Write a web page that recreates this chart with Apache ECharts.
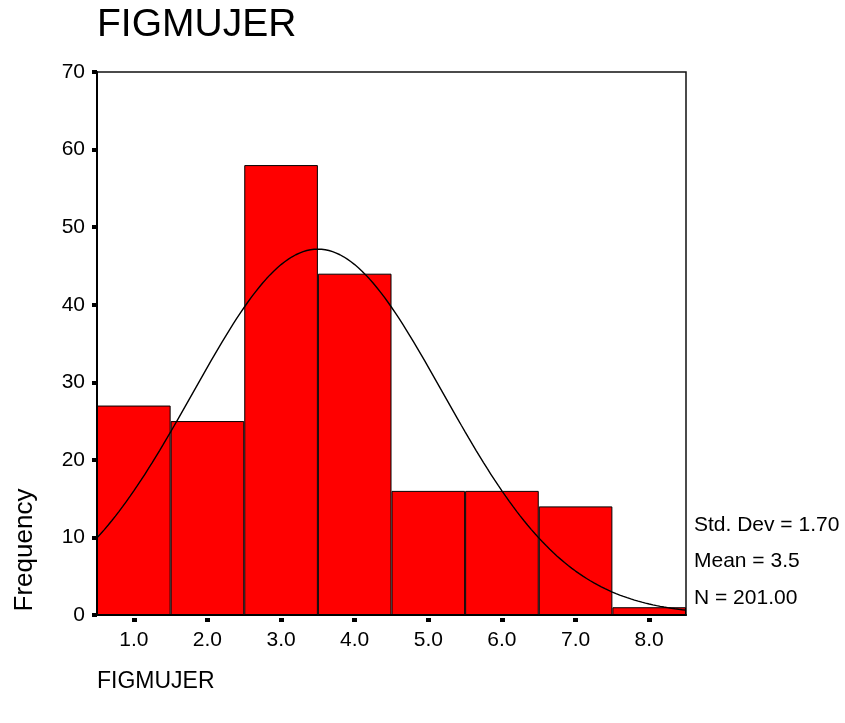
<!DOCTYPE html>
<html>
<head>
<meta charset="utf-8">
<script src="https://cdn.jsdelivr.net/npm/echarts@6/dist/echarts.min.js"></script>
<style>
  html, body { margin: 0; padding: 0; background: #fff; }
  #chart { width: 845px; height: 723px; }
</style>
</head>
<body>
<div id="chart"></div>
<script>
// Histogram of FIGMUJER with its fitted normal curve
var categories = ['1.0', '2.0', '3.0', '4.0', '5.0', '6.0', '7.0', '8.0'];
var binCenters = [1, 2, 3, 4, 5, 6, 7, 8];
var frequencies = [27, 25, 58, 44, 16, 16, 14, 1];
var yTicks = [0, 10, 20, 30, 40, 50, 60, 70];

// Summary statistics printed beside the plot
var stdDev = 1.70;
var mean = 3.5;
var nCases = 201.00;
var statLines = ['Std. Dev = 1.70', 'Mean = 3.5', 'N = 201.00'];

// Normal curve scaled to counts (bin width 1) from the statistics above
var binWidth = 1;
var curve = [];
for (var i = 0; i <= 160; i++) {
  var x = 0.5 + i * 0.05;
  var z = (x - mean) / stdDev;
  var y = nCases * binWidth * Math.exp(-0.5 * z * z) / (stdDev * Math.sqrt(2 * Math.PI));
  curve.push([x, y]);
}

var FONT = 'Liberation Sans, Arial, sans-serif';
var chart = echarts.init(document.getElementById('chart'), null, { renderer: 'canvas' });

chart.setOption({
  animation: false,
  backgroundColor: '#ffffff',
  grid: {
    left: 97, top: 72, width: 589, height: 543,
    show: true, borderColor: '#111', borderWidth: 1.5, backgroundColor: 'transparent',
    containLabel: false
  },
  xAxis: [
    {
      type: 'category', data: categories, boundaryGap: true, position: 'bottom',
      axisLine: { show: true, lineStyle: { color: '#000', width: 2 } },
      axisTick: { show: false },
      axisLabel: { color: '#000', fontSize: 21, fontFamily: FONT, margin: 15 },
      splitLine: { show: false }
    },
    {
      // detached tick marks under each bin
      type: 'category', data: categories, boundaryGap: true, position: 'bottom', offset: 3,
      axisLine: { show: false },
      axisTick: { show: true, alignWithLabel: true, length: 4, lineStyle: { color: '#000', width: 5 } },
      axisLabel: { show: false },
      splitLine: { show: false }
    },
    {
      type: 'value', min: 0.5, max: 8.5, show: false, position: 'bottom'
    }
  ],
  yAxis: {
    type: 'value', min: yTicks[0], max: yTicks[yTicks.length - 1], interval: 10,
    axisLine: { show: true, lineStyle: { color: '#000', width: 2 } },
    axisTick: { show: true, length: 5, inside: false, lineStyle: { color: '#000', width: 4 } },
    axisLabel: { color: '#000', fontSize: 21, fontFamily: FONT, margin: 12 },
    splitLine: { show: false }
  },
  series: [
    {
      type: 'bar', xAxisIndex: 0, data: frequencies,
      barWidth: '100%', barCategoryGap: '0%',
      itemStyle: { color: '#ff0000', borderColor: '#000', borderWidth: 1 },
      z: 2
    },
    {
      type: 'line', xAxisIndex: 2, data: curve,
      showSymbol: false, symbol: 'none', smooth: false,
      lineStyle: { color: '#000', width: 1.4 },
      z: 3
    }
  ],
  graphic: [
    {
      type: 'text', left: 97, top: 6,
      style: { text: 'FIGMUJER', font: '39px ' + FONT, fill: '#000' }
    },
    {
      type: 'text', x: 97, y: 682,
      style: { text: 'FIGMUJER', font: '23px ' + FONT, fill: '#000', textVerticalAlign: 'middle' }
    },
    {
      type: 'text', x: 25, y: 550, rotation: Math.PI / 2,
      style: { text: 'Frequency', font: '26px ' + FONT, fill: '#000', textAlign: 'center', textVerticalAlign: 'middle' }
    },
    {
      type: 'text', x: 694, y: 525,
      style: { text: statLines[0], font: '21px ' + FONT, fill: '#000', textVerticalAlign: 'middle' }
    },
    {
      type: 'text', x: 694, y: 561,
      style: { text: statLines[1], font: '21px ' + FONT, fill: '#000', textVerticalAlign: 'middle' }
    },
    {
      type: 'text', x: 694, y: 598,
      style: { text: statLines[2], font: '21px ' + FONT, fill: '#000', textVerticalAlign: 'middle' }
    }
  ]
});
</script>
</body>
</html>
